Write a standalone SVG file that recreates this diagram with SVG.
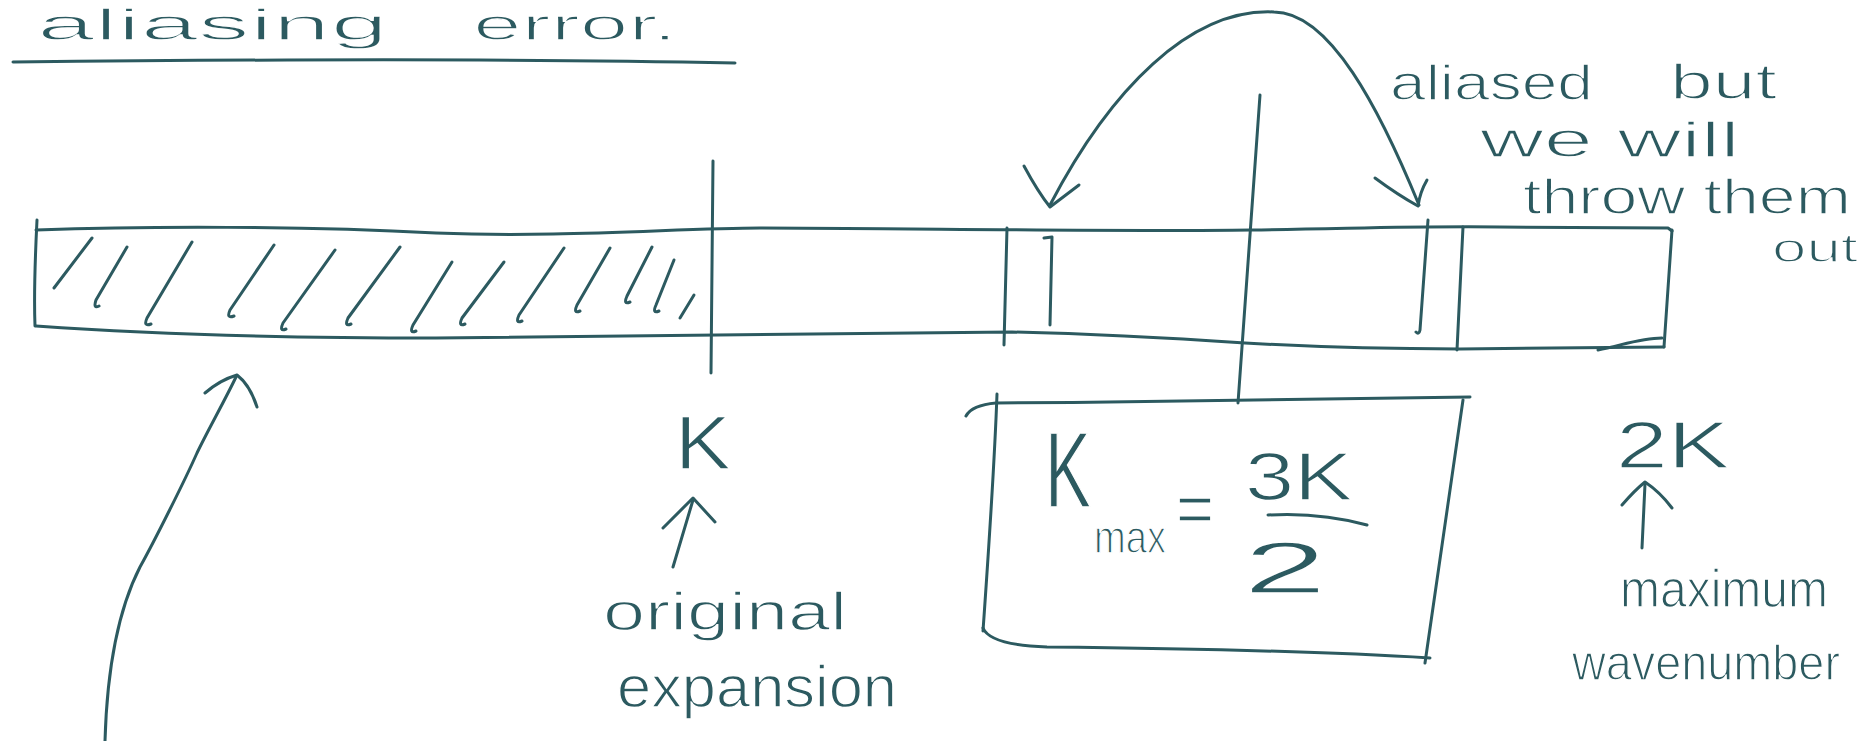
<svg xmlns="http://www.w3.org/2000/svg" width="1872" height="741" viewBox="0 0 1872 741">
<style>
.ink{fill:none;stroke:#2c5a60;stroke-width:3;stroke-linecap:round;stroke-linejoin:round}
.hw{fill:#2c5a60;stroke:#ffffff;stroke-width:1.4;font-family:"Liberation Sans","Open Sans",sans-serif}
</style>
<rect width="1872" height="741" fill="#ffffff"/>
<g id="title">
<text class="hw" x="37" y="40" font-size="44" textLength="351" lengthAdjust="spacingAndGlyphs">aliasing</text>
<text class="hw" x="473" y="40" font-size="44" textLength="204" lengthAdjust="spacingAndGlyphs">error.</text>
<path class="ink" d="M13,62 C200,60 500,58 735,63"/>
</g>
<g id="strip">
<path class="ink" d="M36,230 C150,226 300,226 436,233 C560,238 680,228 760,228 C900,228 1100,232 1251,230 C1350,229 1400,226 1500,227 L1668,228 L1672,231"/>
<path class="ink" d="M36,326 C150,334 300,338 436,338 C600,338 800,335 1012,332 C1100,334 1200,340 1245,343 C1330,348 1400,349 1460,349 L1664,347"/>
<path class="ink" d="M37,220 C35,260 34,300 35,326"/>
<path class="ink" d="M1672,230 L1664,347"/>
<path class="ink" d="M1598,350 C1620,346 1640,338 1662,338"/>
<g id="hatching">
<path class="ink" d="M92,238 L54,288"/>
<path class="ink" d="M127,247 L96,300 Q93,309 99,306"/>
<path class="ink" d="M192,242 L147,318 Q143,327 151,324"/>
<path class="ink" d="M274,245 L230,310 Q226,319 234,316"/>
<path class="ink" d="M335,250 L283,323 Q279,332 286,329"/>
<path class="ink" d="M400,247 L348,318 Q344,327 351,324"/>
<path class="ink" d="M452,262 L413,325 Q409,334 416,331"/>
<path class="ink" d="M504,262 L462,318 Q458,327 465,324"/>
<path class="ink" d="M564,248 L519,315 Q515,324 522,321"/>
<path class="ink" d="M610,248 L577,305 Q573,314 580,311"/>
<path class="ink" d="M652,247 L627,296 Q623,305 630,302"/>
<path class="ink" d="M674,260 L656,305 Q652,314 659,311"/>
<path class="ink" d="M694,295 L680,318"/>
</g>
<path class="ink" d="M713,161 L711,373"/>
<path class="ink" d="M1007,228 L1004,345"/>
<path class="ink" d="M1044,238 L1052,237 L1050,325"/>
<path class="ink" d="M1428,220 L1420,330 Q1419,335 1416,332"/>
<path class="ink" d="M1463,227 L1457,350"/>
</g>
<g id="kmax-box">
<path class="ink" d="M966,416 Q972,405 996,403 C1150,402 1300,400 1470,397"/>
<path class="ink" d="M997,394 C995,450 988,560 983,631"/>
<path class="ink" d="M1463,400 L1425,663"/>
<path class="ink" d="M983,628 Q990,645 1047,647 C1150,648 1300,650 1430,658"/>
<text class="hw" x="1045" y="507" font-size="108" textLength="46" lengthAdjust="spacingAndGlyphs">K</text>
<text class="hw" x="1094" y="553" font-size="46" textLength="72" lengthAdjust="spacingAndGlyphs">max</text>
<text class="hw" x="1176" y="533" font-size="70" textLength="38" lengthAdjust="spacingAndGlyphs">=</text>
<text class="hw" x="1245" y="500" font-size="68" textLength="108" lengthAdjust="spacingAndGlyphs">3K</text>
<path class="ink" d="M1268,515 Q1320,512 1367,525"/>
<text class="hw" x="1243" y="593" font-size="72" textLength="84" lengthAdjust="spacingAndGlyphs">2</text>
</g>
<g id="label-K">
<text class="hw" x="675" y="469" font-size="76" textLength="56" lengthAdjust="spacingAndGlyphs">K</text>
</g>
<g id="label-original-expansion">
<text class="hw" x="603" y="630" font-size="54" textLength="244" lengthAdjust="spacingAndGlyphs">original</text>
<text class="hw" x="617" y="707" font-size="60" textLength="280" lengthAdjust="spacingAndGlyphs">expansion</text>
</g>
<g id="label-2K">
<text class="hw" x="1616" y="468" font-size="66" textLength="114" lengthAdjust="spacingAndGlyphs">2K</text>
</g>
<g id="label-maximum-wavenumber">
<text class="hw" x="1620" y="607" font-size="54" textLength="208" lengthAdjust="spacingAndGlyphs">maximum</text>
<text class="hw" x="1572" y="680" font-size="50" textLength="268" lengthAdjust="spacingAndGlyphs">wavenumber</text>
</g>
<g id="label-aliased">
<text class="hw" x="1390" y="100" font-size="50" textLength="203" lengthAdjust="spacingAndGlyphs">aliased</text>
<text class="hw" x="1670" y="99" font-size="50" textLength="107" lengthAdjust="spacingAndGlyphs">but</text>
<text class="hw" x="1480" y="157" font-size="50" textLength="260" lengthAdjust="spacingAndGlyphs">we will</text>
<text class="hw" x="1523" y="214" font-size="50" textLength="328" lengthAdjust="spacingAndGlyphs">throw them</text>
<text class="hw" x="1772" y="262" font-size="40" textLength="86" lengthAdjust="spacingAndGlyphs">out</text>
</g>
<g id="connectors">
<path class="ink" d="M1050,205 C1110,90 1190,8 1274,12 C1330,12 1380,110 1419,205"/>
<path class="ink" d="M1024,166 Q1038,192 1050,207 L1079,185"/>
<path class="ink" d="M1375,178 Q1398,195 1418,206 Q1420,192 1427,180"/>
<path class="ink" d="M1260,95 L1238,403"/>
<path class="ink" d="M673,567 L693,500"/>
<path class="ink" d="M663,528 L693,498 L715,522"/>
<path class="ink" d="M1642,548 L1645,484"/>
<path class="ink" d="M1622,505 Q1635,490 1645,482 Q1660,492 1672,508"/>
<path class="ink" d="M105,741 C107,670 118,610 140,567 C155,540 185,480 197,453 C207,432 225,400 236,377"/>
<path class="ink" d="M205,393 Q220,380 237,375 Q250,385 257,407"/>
</g>
</svg>
